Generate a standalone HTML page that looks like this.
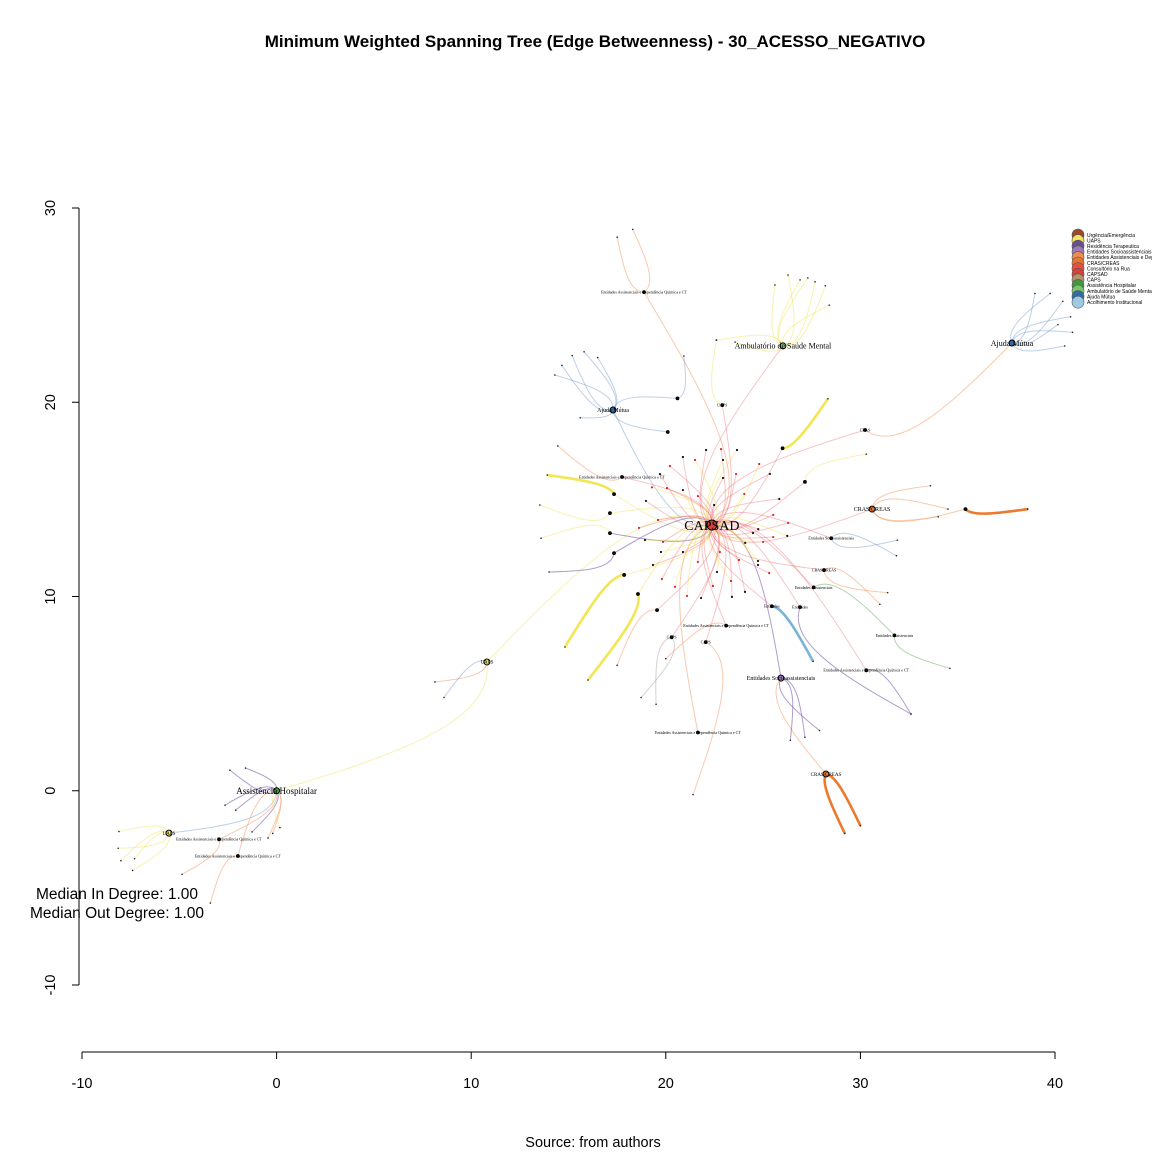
<!DOCTYPE html>
<html><head><meta charset="utf-8">
<style>
html,body{margin:0;padding:0;background:#fff;}
svg{display:block;}
text{font-family:"Liberation Sans",sans-serif;}
.serif{font-family:"Liberation Serif",serif;}
</style></head>
<body>
<svg id="chart" width="1152" height="1152" viewBox="0 0 1152 1152">
<text x="595" y="47" text-anchor="middle" font-size="17" font-weight="bold">Minimum Weighted Spanning Tree (Edge Betweenness) - 30_ACESSO_NEGATIVO</text>
<g id="axes"></g>
<g id="edges"></g>
<g id="nodes"></g>
<g id="legend"></g>
<text x="117" y="899" text-anchor="middle" font-size="15.5">Median In Degree: 1.00</text>
<text x="117" y="918" text-anchor="middle" font-size="15.5">Median Out Degree: 1.00</text>
<text x="593" y="1147" text-anchor="middle" font-size="14.5">Source: from authors</text>
</svg>
<script>
const xTicks = [-10, 0, 10, 20, 30, 40];
const yTicks = [-10, 0, 10, 20, 30];
const legendLabels = ["Urgência/Emergência","UAPS","Residência Terapeutica","Entidades Socioassistenciais","Entidades Assistenciais e Dep","CRAS/CREAS","Consultório na Rua","CAPSAD","CAPS","Assistência Hospitalar","Ambulatório de Saúde Mental","Ajuda Mútua","Acolhimento Institucional"];
const legendColors = ["#9c4a2a","#f3e35e","#6b4e96","#9d7bb8","#f08c50","#e8772e","#e9503f","#d6413a","#b8926a","#3f9a3f","#7ec46e","#2d6ca8","#9ecae1"];

const hubNames = ["CAPSAD","Ambulatório de Saúde Mental","Ajuda Mútua","Ajuda Mútua","CRAS/CREAS","Entidades Socioassistenciais","CRAS/CREAS","Assistência Hospitalar","UAPS","UAPS",
 "Entidades Assistenciais e Dependência Química e CT","Entidades Socioassistenciais","CRAS/CREAS","Entidades Assistenciais e Dependência Química e CT","Entidades","Entidades Assistenciais","Entidades Assistenciais e Dependência Química e CT","CAPS","Entidades Assistenciais e Dependência Química e CT","Entidades Assistenciais e Dependência Química e CT",
 "Entidades Assistenciais e Dependência Química e CT","CRAS","","","","","","","","","","CAPS","","","UAPS","Entidades Assistenciais","Entidades Assistenciais e Dependência Química e CT","Entidades",""];
const hubX = [22.37,26.02,37.79,17.29,30.60,25.92,28.23,0,10.81,-5.53, 18.88,28.5,28.13,30.3,25.45,31.75,23.1,20.3,21.65,-2.96, -1.99,30.24,26.0,17.34,17.13,17.13,17.34,17.86,18.57,19.55, 27.15,22.05,20.1,20.6,22.9,27.6,17.75,26.9,35.4];
const hubY = [13.68,22.90,23.05,19.60,14.50,5.80,0.86,0,6.63,-2.18, 25.67,13.0,11.36,6.2,9.5,8.0,8.5,7.9,3.0,-2.5, -3.36,18.57,17.63,15.27,14.29,13.26,12.23,11.11,10.13,9.3, 15.9,7.65,18.47,20.2,19.85,10.47,16.15,9.45,14.5];
const hubParent = [-1,0,21,0,0,0,5,8,0,7, 0,0,0,0,0,35,0,0,0,7, 7,0,0,0,0,0,0,0,0,0, 0,0,3,3,0,0,0,0,4];
const hubEdge = ["r","r","o","b","r","p","o","y","y","b", "o","r","r","r","r","g","r","r","o","o", "o","r","r","y","y","p","p","y","y","r", "r","r","b","b","r","r","r","r","o"];
const hubSize = [14,8,8,6,6,6,5,9,5,5, 4,4,4,4,4,4,4,4,4,4, 4,4,4,4,4,4,4,4,4,4, 4,4,4,4,4,4,4,4,4];

const leafParent = [1,1,1,1,1,1,1,1,1, 2,2,2,2,2,2,2, 3,3,3,3,3,3, 4,4,4,38, 5,5,5, 6,6, 7,7,7,7,7,7,7,7, 9,9,9,9,9, 19,20, 8,8, 10,10, 14,11,11,12,12,15,13, 22,30,33,34, 23,24,25,26,27,28,29,17,17,31, 37,36, 16];
const leafX = [25.61,26.28,26.9,27.67,28.4,28.2,27.3,22.6,23.56, 38.97,39.75,40.4,40.8,40.15,40.9,40.5, 15.19,15.8,14.66,14.3,15.6,16.5, 33.6,34.0,34.5,38.6, 27.15,27.9,26.4, 29.2,30.0, -1.6,-2.4,-2.65,-1.26,-2.1,-0.44,0.17,-0.2, -8.1,-8.14,-8.0,-7.4,-7.3, -4.86,-3.4, 8.14,8.6, 17.5,18.3, 27.57,31.9,31.85,31.4,31.0,34.6,32.6, 28.33,30.3,20.93,22.6, 13.91,13.53,13.59,14.0,14.82,16.0,17.5,18.73,19.5,21.4, 32.6,14.45, 20.0];
const leafY = [26.04,26.55,26.3,26.2,25.0,26.0,26.4,23.2,23.1, 25.6,25.6,25.2,24.4,24.0,23.6,22.9, 22.4,22.6,21.9,21.4,19.2,22.3, 15.7,14.1,14.5,14.5, 2.75,3.1,2.6, -2.2,-1.8, 1.17,1.06,-0.74,-2.12,-1.0,-2.43,-1.9,-2.2, -2.1,-2.96,-3.6,-4.1,-3.5, -4.3,-5.78, 5.6,4.8, 28.5,28.9, 6.66,12.9,12.1,10.2,9.6,6.3,3.95, 20.18,17.33,22.38,23.2, 16.25,14.71,13.0,11.26,7.4,5.7,6.46,4.8,4.45,-0.2, 3.95,17.75, 6.8];
const leafEdge = ["y","y","y","y","y","y","y","y","y", "b","b","b","b","b","b","b", "b","b","b","b","b","b", "o","o","o","O", "p","p","p","O","O", "p","p","p","p","p","o","y","o", "y","y","y","y","y", "o","o", "o","b", "o","o", "B","b","b","o","o","g","p", "Y","y","b","y", "Y","y","y","p","Y","Y","o","l","l","o", "p","o", "o"];

const satX = [23.66,23.61,22.94,24.03,25.83,26.29,26.24,25.52,24.75,25.0,24.08,23.76,24.74,25.31,24.07,23.35,23.40,22.42,22.63,21.65,20.88,20.47,19.34,19.80,19.75,18.62,18.98,19.29,19.70,20.06,20.88,20.21,20.88,21.50,22.07,22.84,22.94,21.65,22.48,24.80,25.35,25.52,24.74,22.78,21.81,21.09,24.48,19.60,18.93,19.86];
const satY = [17.54,16.31,16.10,15.28,15.02,13.79,13.12,13.06,13.47,12.81,12.76,11.88,11.83,11.21,10.24,10.80,9.98,10.54,11.26,11.78,12.29,10.50,11.62,10.90,12.29,13.53,14.92,15.62,16.30,15.58,15.48,16.72,17.18,17.03,17.54,17.59,17.03,15.17,14.71,16.82,16.31,14.20,11.62,12.29,9.92,10.03,13.27,13.94,12.91,12.81];

const X0=276.6, XS=19.46, Y0=790.75, YS=19.425;
const sx = v => X0 + v*XS;
const sy = v => Y0 - v*YS;
const NS="http://www.w3.org/2000/svg";
const col = {r:"rgba(232,90,95,0.35)",y:"rgba(240,226,80,0.45)",Y:"#f2e652",b:"rgba(110,150,200,0.45)",B:"#7ab3d6",o:"rgba(243,150,95,0.5)",O:"#ec7a2c",p:"rgba(120,95,170,0.6)",g:"rgba(110,180,100,0.55)",l:"rgba(150,140,140,0.4)"};
const wid = k => (k==="Y"||k==="B"||k==="O") ? 2.6 : 1;
function mk(tag, attrs, parent){const e=document.createElementNS(NS,tag);for(const k in attrs)e.setAttribute(k,attrs[k]);parent.appendChild(e);return e;}

const ax=document.getElementById('axes');
const xl=mk('line',{x1:sx(xTicks[0]),x2:sx(xTicks[xTicks.length-1]),y1:1052,y2:1052,stroke:'#000'},ax);


xTicks.forEach(t=>{
  mk('line',{x1:sx(t),x2:sx(t),y1:1052,y2:1059,stroke:'#000'},ax);
  const tx=mk('text',{x:sx(t),y:1088,'text-anchor':'middle','font-size':14.5},ax);
  tx.textContent=t;
  
  
});
const yl=mk('line',{x1:79,x2:79,y1:sy(yTicks[0]),y2:sy(yTicks[yTicks.length-1]),stroke:'#000'},ax);


yTicks.forEach(t=>{
  mk('line',{x1:72,x2:79,y1:sy(t),y2:sy(t),stroke:'#000'},ax);
  const tx=mk('text',{x:55,y:sy(t),'text-anchor':'middle','font-size':14.5,transform:`rotate(-90 55 ${sy(t)})`},ax);
  tx.textContent=t;
  
  
});

const eg=document.getElementById('edges'), ng=document.getElementById('nodes');
let side=1;
function curve(x1,y1,x2,y2,stroke,w){
  const a=sx(x1),b=sy(y1),c=sx(x2),d=sy(y2);
  const mx=(a+c)/2,my=(b+d)/2,dx=c-a,dy=d-b;
  side=-side;
  const k=(w>2?0.12:0.22)*side;
  const p=mk('path',{d:`M${a},${b} C${a+dx*0.1-dy*k},${b+dy*0.1+dx*k} ${mx-dy*k*0.6},${my+dx*k*0.6} ${c},${d}`,fill:'none',stroke:stroke,'stroke-width':w},eg);
  
  
}
hubX.forEach((x,i)=>{
  const p=hubParent[i]; if(p<0) return;
  curve(hubX[p],hubY[p],x,hubY[i],col[hubEdge[i]],wid(hubEdge[i]));
});
satX.forEach((x,i)=>{
  curve(hubX[0],hubY[0],x,satY[i],i%3===0?col.y:col.r,1);
});
leafX.forEach((x,i)=>{
  const p=leafParent[i];
  curve(hubX[p],hubY[p],x,leafY[i],col[leafEdge[i]],wid(leafEdge[i]));
});
satX.forEach((x,i)=>{
  const c=mk('circle',{cx:sx(x),cy:sy(satY[i]),r:1.1,fill:i%2?'#d22':'#111'},ng);
  
  
});
leafX.forEach((x,i)=>{
  const c=mk('circle',{cx:sx(x),cy:sy(leafY[i]),r:0.8,fill:'#222'},ng);
  
  
});
const hubFill=["#d6413a","#7ec46e","#2d6ca8","#2d6ca8","#e8772e","#9d7bb8","#e8772e","#3f9a3f","#f3e35e","#f3e35e"];
hubX.forEach((x,i)=>{
  const r=i===0?5:(i<10?3:1.4);
  const c=mk('circle',{cx:sx(x),cy:sy(hubY[i]),r:r,fill:hubFill[i]||'#111',stroke:'#000','stroke-width':1},ng);
  
  
  if(hubNames[i]){
    const t=mk('text',{x:sx(x),y:sy(hubY[i])+hubSize[i]*0.35,'text-anchor':'middle','font-size':hubSize[i],class:'serif'},ng);
    t.textContent=hubNames[i];
    
    
  }
});
const lg=document.getElementById('legend');
legendLabels.forEach((l,i)=>{
  const y=235+i*5.6;
  const c=mk('circle',{cx:1078,cy:y,r:6,fill:legendColors[i],stroke:'#555','stroke-width':0.6},lg);
  
  
  const t=mk('text',{x:1087,y:y+1.8,'font-size':5},lg);
  t.textContent=l;
  
  
});
</script>
</body></html>
